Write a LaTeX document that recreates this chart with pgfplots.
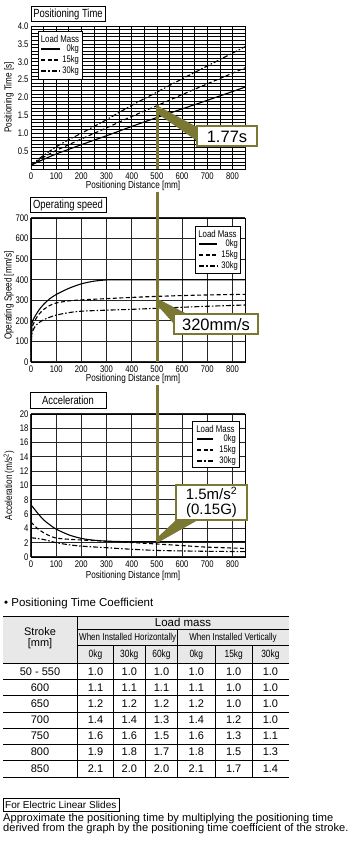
\documentclass[border=0pt]{standalone}
\usepackage{pgfplots}
\pgfplotsset{compat=1.18}
\usepackage{fontspec}
\setmainfont{Liberation Sans}[FakeStretch=0.8]
\newfontfamily\wide{Liberation Sans}
\definecolor{olivec}{RGB}{122,120,50}
\newcommand\fs[1]{\fontsize{#1}{#1}\selectfont}
\tikzset{dsh/.style={dash pattern=on 4pt off 2.5pt},
         dd/.style={dash pattern=on 5pt off 2pt on 1.5pt off 2pt},
         crv/.style={black, line width=1.1pt, mark=none}}
\pgfplotsset{
  base/.style={
    scale only axis, width=214pt, height=143pt, anchor=south west,
    xmin=0, xmax=850, xtick={0,100,...,800},
    major tick length=0pt, minor tick length=0pt,
    axis line style={black, line width=0.9pt},
    every tick label/.append style={font=\fs{9.6}},
    /pgf/number format/assume math mode=true,
    xlabel={Positioning Distance [mm]},
    yticklabel style={xshift=1pt},
  }
}
\newcommand\lmlegend[7]{%
  \draw[black, line width=0.8pt, fill=white] (#1,#2) rectangle (#3,#4);
  \node[font=\fs{9.8}] at ({(#1+#3)/2},#2+7.5) {Load Mass};
  \draw[line width=1.2pt] (#5,#2+18) -- (#6,#2+18);
  \draw[line width=1.2pt, dsh] (#5,#2+29) -- (#6,#2+29);
  \draw[line width=1.2pt, dd] (#5,#2+40) -- (#6,#2+40);
  \node[anchor=east, font=\fs{9.5}, inner sep=0pt] at (#7,#2+18) {0kg};
  \node[anchor=east, font=\fs{9.5}, inner sep=0pt] at (#7,#2+29) {15kg};
  \node[anchor=east, font=\fs{9.5}, inner sep=0pt] at (#7,#2+40) {30kg};
}
\begin{document}
\begin{tikzpicture}
\useasboundingbox (0pt,0pt) rectangle (354pt,-853pt);
% ---------- Positioning time
\begin{axis}[base, at={(31pt,-169pt)}, ymin=0, ymax=4,
  ytick={0.5,1.0,1.5,2.0,2.5,3.0,3.5,4.0},
  minor xtick={50,150,250,350,450,550,650,750,850},
  minor ytick={0.1,0.2,...,3.95},
  grid=both,
  major grid style={black, line width=0.6pt},
  minor grid style={black, line width=0.6pt},
  yticklabel style={/pgf/number format/.cd, fixed, fixed zerofill, precision=1},
  ylabel={Positioning Time [s]},
  ylabel style={at={(axis description cs:-0.103,0.5)}, anchor=center, font=\fs{10.2}},
  xlabel style={at={(axis description cs:0.477,-0.118)}, anchor=center, font=\fs{10.2}}]
\addplot[crv, smooth] coordinates {(0,0.1)(25,0.19)(50,0.27)(100,0.42)(150,0.55)(200,0.68)(300,0.93)(400,1.19)(500,1.44)(600,1.68)(700,1.92)(850,2.29)};
\addplot[crv, smooth, dsh] coordinates {(0,0.1)(25,0.22)(50,0.33)(100,0.52)(150,0.68)(200,0.84)(300,1.15)(400,1.47)(500,1.77)(600,2.08)(700,2.38)(850,2.83)};
\addplot[crv, smooth, dd] coordinates {(0,0.1)(25,0.25)(50,0.38)(100,0.62)(150,0.82)(200,1.0)(300,1.38)(400,1.78)(500,2.15)(600,2.52)(700,2.88)(850,3.42)};
\end{axis}
% ---------- Operating speed
\begin{axis}[base, at={(31pt,-362pt)}, height=144pt, ymin=0, ymax=700,
  ytick={0,100,...,700}, grid=major,
  major grid style={black!85, line width=1.1pt},
  ylabel={Operating Speed [mm/s]},
  ylabel style={at={(axis description cs:-0.103,0.46)}, anchor=center, font=\fs{10.2}},
  xlabel style={at={(axis description cs:0.477,-0.115)}, anchor=center, font=\fs{10.2}}]
\addplot[crv, smooth, tension=0.4] coordinates {(0,50)(2,150)(5,195)(15,220)(30,250)(50,280)(75,308)(100,328)(150,358)(200,380)(250,393)(300,399)(350,400)(850,400)};
\addplot[crv, smooth, tension=0.4, dsh] coordinates {(0,50)(2,130)(5,170)(15,200)(30,230)(50,255)(75,275)(100,287)(150,297)(200,302)(300,308)(400,314)(500,319)(600,323)(700,326)(850,329)};
\addplot[crv, smooth, tension=0.4, dd] coordinates {(0,50)(2,110)(5,145)(15,170)(30,190)(50,205)(75,218)(100,228)(150,240)(200,247)(300,252)(400,256)(500,261)(600,266)(700,271)(850,277)};
\end{axis}
% ---------- Acceleration
\begin{axis}[base, at={(31pt,-557pt)}, ymin=0, ymax=20,
  ytick={0,2,...,20}, grid=major,
  major grid style={black!85, line width=1.1pt},
  ylabel={Acceleration (m/s\textsuperscript{2})},
  ylabel style={at={(axis description cs:-0.103,0.5)}, anchor=center, font=\fs{10.2}},
  xlabel style={at={(axis description cs:0.477,-0.135)}, anchor=center, font=\fs{10.2}}]
\addplot[crv, smooth] coordinates {(0,7.3)(25,6.2)(50,5.2)(75,4.5)(100,3.9)(150,3.1)(200,2.6)(250,2.35)(300,2.22)(350,2.17)(400,2.15)(850,2.15)};
\addplot[crv, smooth, dsh] coordinates {(0,4.9)(25,4.0)(50,3.4)(75,2.95)(100,2.65)(150,2.48)(200,2.38)(300,2.2)(400,2.02)(500,1.82)(600,1.6)(700,1.38)(850,1.2)};
\addplot[crv, smooth, dd] coordinates {(0,2.7)(50,2.45)(100,2.0)(150,1.72)(200,1.52)(300,1.3)(400,1.08)(500,0.92)(600,0.85)(700,0.8)(850,0.75)};
\end{axis}
% ---------- overlays
\begin{scope}[x=1pt, y=-1pt]
% titles
\draw[line width=0.7pt] (31,6) rectangle (105,21.7);
\node[font=\fs{11.8}] at (68,14) {Positioning Time};
\draw[line width=0.7pt] (30,197.3) rectangle (106,212.7);
\node[font=\fs{11.8}] at (68,205) {Operating speed};
\draw[line width=0.7pt] (30,392.3) rectangle (106,408.3);
\node[font=\fs{11.8}] at (68,400.3) {Acceleration};
% legends
\lmlegend{38}{31}{82}{79}{41}{60}{79}
\lmlegend{195}{226}{240}{273}{199}{217}{238}
\lmlegend{192}{421}{239}{467}{197}{213}{236}
% olive guide line
\draw[olivec, line width=3pt] (157,105) -- (157,169);
\draw[olivec, line width=3pt] (157,192) -- (157,362);
\draw[olivec, line width=3pt] (157,385) -- (157,542);
% callouts
\fill[olivec] (158,106) -- (197,127) -- (197,141) -- (158,114) -- cycle;
\draw[olivec, line width=2.2pt, fill=white] (197,126) rectangle (257,146);
\node[font={\wide\fs{16.5}}] at (227,136.5) {1.77s};
\fill[olivec] (158,299) -- (187,314) -- (174,324) -- (158,306) -- cycle;
\draw[olivec, line width=2.2pt, fill=white] (174,314) rectangle (258,334);
\node[font={\wide\fs{16.5}}] at (216,324.3) {320mm/s};
\fill[olivec] (158,537) -- (176,520) -- (198,520) -- (159,542) -- cycle;
\draw[olivec, line width=2.2pt, fill=white] (176,485) rectangle (247,520);
\node[font={\wide\fs{15}}, align=center] at (211.5,502.5) {1.5m/s\textsuperscript{2}\\[0.5pt](0.15G)};
% ---------- table
\node[anchor=west, font={\wide\fs{11.5}}, inner sep=0pt] at (4,604) {\textbullet\ Positioning Time Coefficient};
\fill[black!9] (3,616) rectangle (288.5,663.5);
\draw[line width=1pt] (3,616) -- (288.5,616);
\draw[line width=0.6pt] (77.7,629.3) -- (288.5,629.3);
\draw[line width=0.6pt] (77.7,645.7) -- (288.5,645.7);
\draw[line width=0.9pt] (3,663.5) -- (288.5,663.5);
\foreach \y in {679.6,695.7,711.8,727.9,744,760.1} \draw[line width=0.6pt] (3,\y) -- (288.5,\y);
\draw[line width=1.2pt] (3,777.5) -- (288.5,777.5);
\draw[line width=0.9pt] (77.7,616) -- (77.7,777.5);
\draw[line width=0.6pt] (177.7,629.3) -- (177.7,777.5);
\foreach \x in {113.3,145.3,215,252.3} \draw[line width=0.6pt] (\x,645.7) -- (\x,777.5);
\node[font={\wide\fs{11}}] at (40,631.5) {Stroke};
\node[font={\wide\fs{11}}] at (40,644) {[mm]};
\node[font={\wide\fs{11.5}}] at (183,622.7) {Load mass};
\node[font=\fs{10}] at (127.7,637.8) {When Installed Horizontally};
\node[font=\fs{10}] at (233,637.8) {When Installed Vertically};
\foreach \x/\t in {95.5/0kg,129.3/30kg,161.5/60kg,196.3/0kg,233.7/15kg,270.4/30kg}
  \node[font=\fs{10.5}] at (\x,654.8) {\t};
\foreach \y/\s/\a/\b/\c/\d/\e/\f in {
  671.6/50 - 550/1.0/1.0/1.0/1.0/1.0/1.0,
  687.7/600/1.1/1.1/1.1/1.1/1.0/1.0,
  703.8/650/1.2/1.2/1.2/1.2/1.0/1.0,
  719.9/700/1.4/1.4/1.3/1.4/1.2/1.0,
  736/750/1.6/1.6/1.5/1.6/1.3/1.1,
  752.1/800/1.9/1.8/1.7/1.8/1.5/1.3,
  768.8/850/2.1/2.0/2.0/2.1/1.7/1.4}{
  \node[font={\wide\fs{11}}] at (40,\y) {\s};
  \node[font={\wide\fs{11}}] at (95.5,\y) {\a};
  \node[font={\wide\fs{11}}] at (129.3,\y) {\b};
  \node[font={\wide\fs{11}}] at (161.5,\y) {\c};
  \node[font={\wide\fs{11}}] at (196.3,\y) {\d};
  \node[font={\wide\fs{11}}] at (233.7,\y) {\e};
  \node[font={\wide\fs{11}}] at (270.4,\y) {\f};
}
% note
\draw[line width=0.7pt] (3,798.5) rectangle (119.3,811);
\node[anchor=west, font={\wide\fs{10}}, inner sep=0pt] at (5,805) {For Electric Linear Slides};
\node[anchor=west, font={\wide\fs{11.1}}, inner sep=0pt] at (3,818.5) {Approximate the positioning time by multiplying the positioning time};
\node[anchor=west, font={\wide\fs{11.1}}, inner sep=0pt] at (3,828.5) {derived from the graph by the positioning time coefficient of the stroke.};
\end{scope}
\end{tikzpicture}
\end{document}
